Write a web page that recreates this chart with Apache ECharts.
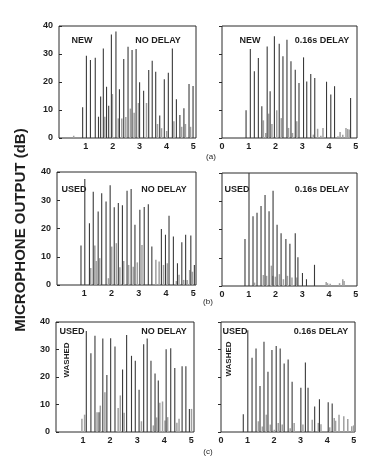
<!DOCTYPE html>
<html>
<head>
<meta charset="utf-8">
<script src="https://cdn.jsdelivr.net/npm/echarts@6/dist/echarts.min.js"></script>
<style>
  html, body { margin: 0; padding: 0; background: #fff; }
  #chart { width: 378px; height: 462px; }
</style>
</head>
<body>
<div id="chart"></div>
<script>
// time (s) / microphone output (dB)
// dark = tall peaks, gray = the low fill in between
const newNoDelayDark = [[0.88, 11], [1.02, 29.4], [1.17, 27.9], [1.35, 28.7], [1.47, 7.6], [1.55, 14.8], [1.65, 32], [1.77, 18.3], [1.85, 11.5], [1.95, 37], [2.12, 38], [2.25, 17.4], [2.41, 28.2], [2.57, 32.6], [2.72, 31.4], [2.87, 31.8], [3.0, 19.9], [3.15, 16.9], [3.34, 24.3], [3.47, 27.6], [3.6, 23.7], [3.75, 8], [3.92, 21], [4.07, 23.3], [4.22, 32], [4.37, 13.8], [4.5, 8.2], [4.65, 10.6], [4.84, 19.3], [4.99, 18.6]]
const newNoDelayGray = [[0.54, 0.8], [1.7, 7.6], [1.98, 15.7], [2.2, 7], [2.33, 7], [2.48, 7.5], [2.65, 10.5], [2.79, 9], [2.95, 12.5], [3.25, 12.5], [3.66, 5], [3.81, 3.5], [4.0, 2.5], [4.27, 6], [4.56, 4], [4.7, 5], [4.89, 4]]

const newDelayDark = [[0.9, 9.9], [1.06, 31.8], [1.21, 23.8], [1.36, 28.6], [1.49, 11.3], [1.69, 32.7], [1.8, 16.7], [1.96, 36.3], [2.14, 33.7], [2.28, 29.2], [2.43, 35.1], [2.58, 27.4], [2.74, 24.4], [2.88, 19.6], [3.05, 28.8], [3.17, 20.2], [3.32, 22.9], [3.47, 21.4], [3.91, 20.1], [4.07, 15.5], [4.21, 18.5], [4.81, 14.3]]
const newDelayGray = [[1.54, 6.3], [1.63, 1.8], [1.74, 8.7], [1.86, 5], [2.04, 9.9], [2.21, 7.1], [2.48, 3.6], [2.63, 1.8], [2.79, 6], [3.41, 1.2], [3.57, 3.3], [3.69, 0.8], [3.77, 3.6], [4.33, 0.6], [4.41, 2.1], [4.51, 1.2], [4.63, 3.6], [4.69, 3.2], [4.75, 3]]

const usedNoDelayDark = [[0.88, 14], [1.02, 37.5], [1.19, 21.9], [1.33, 33], [1.51, 26], [1.64, 32.5], [1.8, 29.6], [1.95, 35.3], [2.1, 27.5], [2.25, 29], [2.4, 28.2], [2.57, 33.4], [2.72, 34], [2.86, 21.3], [3.04, 26.6], [3.2, 27.6], [3.35, 28.6], [3.48, 13.6], [3.83, 19.8], [3.98, 17.8], [4.11, 24.5], [4.27, 17.2], [4.42, 7.7], [4.58, 15.1], [4.72, 17.8], [4.91, 17.5], [5.04, 7.1]]
const usedNoDelayGray = [[1.23, 6], [1.38, 14], [1.43, 8.5], [1.56, 9.5], [1.88, 2.4], [2.0, 13.6], [2.17, 14.8], [2.3, 6.3], [2.44, 8.5], [2.62, 7.1], [2.79, 6.5], [2.94, 8], [3.11, 14.2], [3.62, 8.9], [3.74, 8.3], [3.9, 7.1], [4.04, 7.7], [4.37, 1.4], [4.47, 3.6], [4.64, 1.8], [4.77, 1.8], [4.86, 5.3], [4.96, 4.7]]

const usedDelayDark = [[0.86, 16.6], [1.01, 40], [1.16, 24.7], [1.31, 25.9], [1.46, 28.3], [1.61, 32.2], [1.76, 26.5], [1.91, 33.7], [2.06, 21.7], [2.21, 18.7], [2.39, 16.6], [2.54, 15], [2.74, 18.7], [2.84, 10.2], [3.01, 4.6], [3.16, 2.4], [3.46, 7.5]]
const usedDelayGray = [[1.21, 1.2], [1.54, 3.9], [1.66, 3.6], [1.84, 7.2], [1.89, 3.6], [1.99, 3.3], [2.14, 4.2], [2.29, 2.4], [2.44, 3.6], [2.61, 3], [2.79, 3], [3.89, 1.4], [3.94, 1], [4.04, 0.8], [4.39, 1], [4.51, 2.4], [4.56, 1.8]]

const washedNoDelayDark = [[1.12, 36.7], [1.29, 28.6], [1.44, 35], [1.59, 7.2], [1.73, 34], [1.88, 20.7], [2.02, 34.1], [2.18, 31.1], [2.46, 22.7], [2.61, 35.3], [2.79, 27.7], [2.93, 25.9], [3.07, 15.4], [3.24, 31.9], [3.37, 34], [3.51, 25.9], [3.66, 21.3], [3.78, 18.7], [4.07, 30.1], [4.24, 30.5], [4.39, 23.3], [4.66, 23.9], [4.8, 23.9], [4.93, 8.4]]
const washedNoDelayGray = [[0.95, 4.8], [1.05, 6.3], [1.51, 7.2], [1.63, 9.6], [1.8, 14.5], [2.29, 8.7], [2.37, 13.3], [2.51, 7], [3.15, 3.9], [3.59, 2.4], [3.71, 5.3], [3.83, 10.6], [3.93, 11.1], [4.02, 4.2], [4.12, 5.4], [4.46, 3.4], [4.54, 4.8], [5.0, 8.4]]

const washedDelayDark = [[0.84, 6.5], [1.01, 37], [1.17, 27], [1.32, 30.4], [1.47, 16.7], [1.62, 32.8], [1.77, 21.9], [1.92, 29.8], [2.08, 31.3], [2.23, 30.4], [2.38, 24.9], [2.53, 26.4], [2.68, 18.3], [3.01, 16.1], [3.18, 25.3], [3.28, 16.1], [3.53, 9.3], [3.71, 11.9], [4.04, 10.8], [4.19, 10.4]]
const washedDelayGray = [[1.4, 3.9], [1.55, 2], [1.7, 6.3], [1.85, 2.7], [2.0, 0.8], [2.15, 3.3], [2.3, 2.7], [2.6, 1.4], [2.75, 3.3], [3.08, 2.7], [3.43, 4.5], [3.66, 3.3], [3.76, 2.8], [4.09, 1.7], [4.26, 5.1], [4.31, 4.1], [4.44, 6.3], [4.62, 5.7], [4.77, 4.7], [4.92, 2.1], [4.99, 2.4]]

const yTicks = [0, 10, 20, 30, 40]
const xTicks = [0, 1, 2, 3, 4, 5]

const FONT = '"Liberation Sans", Arial, sans-serif'
const INK = '#1e1e1e'

// one entry per small plot: where it sits and which arrays it draws
const panels = [
  { left: 59, top: 26, width: 137, height: 112, side: 'left', dark: newNoDelayDark, gray: newNoDelayGray },
  { left: 222, top: 26, width: 135, height: 112, side: 'right', dark: newDelayDark, gray: newDelayGray },
  { left: 57, top: 172, width: 139, height: 113, side: 'left', dark: usedNoDelayDark, gray: usedNoDelayGray },
  { left: 222, top: 173, width: 135, height: 113, side: 'right', dark: usedDelayDark, gray: usedDelayGray },
  { left: 56, top: 322, width: 138, height: 110, side: 'left', dark: washedNoDelayDark, gray: washedNoDelayGray },
  { left: 221, top: 322, width: 134, height: 110, side: 'right', dark: washedDelayDark, gray: washedDelayGray }
]

const grid = []
const xAxis = []
const yAxis = []
const series = []

panels.forEach((p, i) => {
  grid.push({
    left: p.left, top: p.top, width: p.width, height: p.height,
    show: true, borderColor: '#2a2a2a', borderWidth: 1, backgroundColor: 'transparent'
  })
  const isLeft = p.side === 'left'
  xAxis.push({
    gridIndex: i,
    type: 'value',
    min: 0,
    max: isLeft ? 5.1 : 5.05,
    interval: 1,
    axisLine: { show: false },
    axisTick: { show: false },
    splitLine: { show: false },
    axisLabel: {
      margin: 4,
      fontSize: 9,
      fontWeight: 'bold',
      fontFamily: FONT,
      color: INK,
      // the left plots put their 0 in the corner via the y axis
      formatter: v => (xTicks.includes(v) && !(isLeft && v === 0)) ? String(v) : ''
    }
  })
  yAxis.push({
    gridIndex: i,
    type: 'value',
    position: isLeft ? 'left' : 'right',
    min: 0,
    max: 40,
    interval: 10,
    axisLine: { show: false },
    axisTick: { show: true, inside: true, length: 3, lineStyle: { color: '#2a2a2a' } },
    splitLine: { show: false },
    axisLabel: {
      show: isLeft,
      margin: 6,
      fontSize: 9,
      fontWeight: 'bold',
      fontFamily: FONT,
      color: INK,
      formatter: v => yTicks.includes(v) ? String(v) : ''
    }
  })
  series.push({
    type: 'bar',
    xAxisIndex: i,
    yAxisIndex: i,
    data: p.gray,
    barWidth: 1.5,
    barGap: '-100%',
    itemStyle: { color: '#a0a0a0' },
    silent: true
  })
  series.push({
    type: 'bar',
    xAxisIndex: i,
    yAxisIndex: i,
    data: p.dark,
    barWidth: 1.1,
    barGap: '-100%',
    itemStyle: { color: '#3a3a3a' },
    silent: true
  })
})

// panel labels
function label (text, x, y, size, rotate) {
  return {
    type: 'text',
    x: x,
    y: y,
    rotation: rotate ? Math.PI / 2 : 0,
    style: {
      text: text,
      fill: INK,
      font: 'bold ' + size + 'px ' + FONT,
      textAlign: 'center',
      textVerticalAlign: 'middle'
    }
  }
}

const graphic = [
  label('MICROPHONE OUTPUT (dB)', 21, 230, 15, true),
  label('NEW', 82, 41, 9),
  label('NO DELAY', 158, 41, 9),
  label('NEW', 250, 41, 9),
  label('0.16s DELAY', 322, 41, 9),
  label('USED', 74, 190, 9),
  label('NO DELAY', 164, 190, 9),
  label('USED', 237, 190, 9),
  label('0.16s DELAY', 322, 190, 9),
  label('USED', 72, 332, 9),
  label('WASHED', 67, 360, 8, true),
  label('NO DELAY', 164, 332, 9),
  label('USED', 235, 332, 9),
  label('WASHED', 229, 359, 8, true),
  label('0.16s DELAY', 321, 332, 9),
  { type: 'text', x: 211, y: 157, style: { text: '(a)', fill: INK, font: '8px ' + FONT, textAlign: 'center', textVerticalAlign: 'middle' } },
  { type: 'text', x: 208, y: 302, style: { text: '(b)', fill: INK, font: '8px ' + FONT, textAlign: 'center', textVerticalAlign: 'middle' } },
  { type: 'text', x: 208, y: 452, style: { text: '(c)', fill: INK, font: '8px ' + FONT, textAlign: 'center', textVerticalAlign: 'middle' } }
]

const chart = echarts.init(document.getElementById('chart'), null, { renderer: 'canvas' })
chart.setOption({
  backgroundColor: '#ffffff',
  animation: false,
  grid: grid,
  xAxis: xAxis,
  yAxis: yAxis,
  series: series,
  graphic: graphic
})
</script>
</body>
</html>
